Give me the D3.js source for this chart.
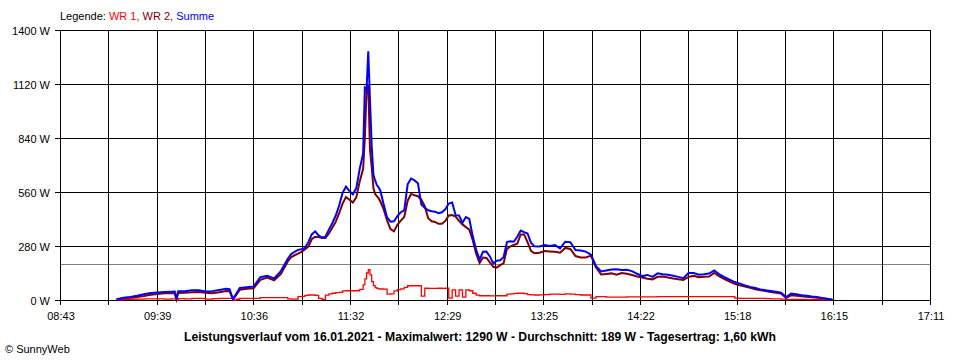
<!DOCTYPE html>
<html><head><meta charset="utf-8">
<script src="https://cdn.jsdelivr.net/npm/d3@7"></script>
<style>
body{margin:0;background:#fff}
svg{display:block}
text{font-family:"Liberation Sans",Arial,sans-serif}
</style>
</head><body>
<svg id="chart" width="960" height="360"></svg>
<script>
// ---- data ----
const times = [
 "09:16","09:20","09:24","09:28","09:32","09:36","09:40","09:44","09:48","09:50",
 "09:51","09:52","09:56","10:00","10:04","10:08","10:12","10:16","10:20","10:22",
 "10:24","10:26","10:28","10:32","10:36","10:40","10:44","10:48","10:52",
 "10:56","10:58","11:00","11:02","11:04","11:06","11:08","11:10","11:12","11:14",
 "11:16","11:18","11:20","11:22","11:24","11:26","11:28","11:30","11:32","11:34",
 "11:36","11:38","11:40",
 "11:41","11:42","11:43","11:44","11:45","11:46","11:47","11:48","11:49","11:50",
 "11:52","11:54","11:56","11:58","12:00","12:02","12:04","12:06","12:08","12:10",
 "12:12","12:14","12:16","12:18","12:20","12:22","12:24","12:26","12:28","12:30",
 "12:32","12:34","12:36","12:38","12:40","12:42","12:44","12:46","12:48","12:50",
 "12:52","12:54","12:56","12:58","13:00","13:02","13:04","13:06","13:08","13:10",
 "13:12","13:14","13:16","13:18","13:20",
 "13:23","13:26","13:29","13:32","13:35","13:38","13:41","13:44","13:47","13:50",
 "13:53","13:56","13:59","14:02","14:05","14:08","14:11","14:14","14:17","14:20",
 "14:23","14:26","14:29","14:32","14:35","14:38","14:41","14:44","14:47","14:50",
 "14:53","14:56","14:59","15:02","15:05","15:08","15:11","15:14","15:17","15:20",
 "15:23","15:26","15:29","15:32","15:35","15:38","15:41","15:44","15:47","15:50",
 "15:53","15:56","15:59","16:02","16:05","16:08","16:11","16:14"
];
const wr1 = [
 1,3,4,5,6,6,6,5,6,6,
 0,7,6,8,8,5,7,8,8,8,
 0,4,8,8,8,12,12,12,12,
 6,5,5,18,19,24,26,26,24,8,
 3,25,32,35,38,40,47,48,48,48,
 48,55,78,
 110,140,157,130,95,75,64,60,58,57,
 56,30,32,47,54,58,65,74,74,74,
 74,20,61,60,60,60,61,60,61,10,
 52,20,52,15,52,48,35,25,22,22,
 22,21,21,22,22,22,30,32,34,35,
 35,33,28,27,26,
 27,28,30,30,29,32,30,28,26,26,
 10,18,17,15,15,15,15,16,16,16,
 16,16,16,17,17,17,17,17,17,17,
 17,17,17,17,17,17,17,17,10,8,
 8,8,8,8,7,6,6,5,2,3,
 3,3,2,2,2,1,1,0
];
const wr2 = [
 2,8,12,16,21,27,31,35,35,35,
 3,36,38,40,41,38,35,40,47,46,
 3,28,53,58,61,105,116,102,135,
 200,222,232,240,250,262,277,315,328,326,
 322,322,345,375,405,450,500,534,520,505,
 532,615,680,
 840,1080,1120,780,690,580,550,538,528,512,
 470,412,368,356,390,412,430,515,550,543,
 538,520,485,424,408,405,395,395,410,438,
 440,432,410,392,378,365,310,240,192,220,
 218,195,172,168,181,190,265,278,285,292,
 340,340,300,255,242,
 245,254,252,250,245,270,265,228,221,221,
 230,168,132,135,138,131,140,136,130,122,
 117,110,107,120,122,117,112,108,104,120,
 125,118,120,122,140,122,108,95,84,76,
 70,63,56,50,47,42,38,34,10,25,
 22,20,17,14,11,9,5,1
];
const summe = [
 4,12,16,22,30,36,39,41,43,44,
 5,46,46,50,51,44,46,52,58,56,
 5,33,62,66,70,118,126,112,150,
 214,238,250,260,263,270,300,340,356,335,
 324,328,365,398,438,490,555,588,565,548,
 580,680,760,
 1100,1090,1290,1037,800,650,620,596,585,568,
 495,428,406,408,435,455,465,600,630,620,
 605,495,478,465,460,458,450,455,470,500,
 505,440,438,400,430,420,330,260,210,250,
 251,226,190,204,206,222,300,305,302,328,
 360,352,345,297,278,
 277,285,280,285,268,302,300,259,257,251,
 235,175,148,153,158,160,155,157,150,136,
 124,130,120,138,134,131,126,120,113,140,
 140,131,133,137,153,133,118,105,93,85,
 76,68,62,55,51,47,43,38,15,33,
 30,25,22,18,15,10,6,2
];
const seriesNames = ["WR 1", "WR 2", "Summe"];
const yTicks = [0, 280, 560, 840, 1120, 1400];
const xTickLabels = ["08:43","09:39","10:36","11:32","12:29","13:25","14:22","15:18","16:15","17:11"];
const dayStart = "08:43", dayEnd = "17:11";
const average = 189;
const titleText = "Leistungsverlauf vom 16.01.2021 - Maximalwert: 1290 W - Durchschnitt: 189 W - Tagesertrag: 1,60 kWh";
const copyrightText = "\u00A9 SunnyWeb";

// ---- drawing ----
const colors = ["#ff0000", "#800000", "#0000ff"];
const widths = [1.3, 2, 2];
const svg = d3.select("#chart");
const parse = d3.timeParse("%H:%M");
const t0 = parse(dayStart), t1 = parse(dayEnd);
const x = d3.scaleTime().domain([t0, t1]).range([60, 930]);
const y = d3.scaleLinear().domain([0, 1400]).range([300, 30]);
const px = v => Math.round(v) + 0.5;

const nGrid = (xTickLabels.length - 1) * 2;
const gridDates = d3.range(nGrid + 1).map(i => new Date(+t0 + i * (t1 - t0) / nGrid));

const grid = svg.append("g").attr("shape-rendering", "crispEdges");
// average line
grid.append("line")
  .attr("x1", 60).attr("x2", 930)
  .attr("y1", px(y(average))).attr("y2", px(y(average)))
  .attr("stroke", "#808080").attr("stroke-width", 1);
grid.selectAll("line.v").data(gridDates).join("line").attr("class", "v")
  .attr("x1", d => px(x(d))).attr("x2", d => px(x(d)))
  .attr("y1", y(1400)).attr("y2", y(0) + 5)
  .attr("stroke", "#000").attr("stroke-width", 1);
grid.selectAll("line.h").data(yTicks).join("line").attr("class", "h")
  .attr("x1", 55).attr("x2", 931)
  .attr("y1", d => px(y(d))).attr("y2", d => px(y(d)))
  .attr("stroke", "#000").attr("stroke-width", 1);

// y labels
svg.selectAll("text.yl").data(yTicks).join("text").attr("class", "yl")
  .attr("x", 50).attr("y", d => y(d) + 4.5)
  .attr("text-anchor", "end").attr("font-size", 11)
  .text(d => d + " W");

// x labels
svg.selectAll("text.xl").data(xTickLabels).join("text").attr("class", "xl")
  .attr("x", (d, i) => x(gridDates[i * 2]) + 1)
  .attr("y", 320)
  .attr("text-anchor", "middle").attr("font-size", 11)
  .text(d => d);

// series
const dates = times.map(parse);
const seriesData = [wr1, wr2, summe];
const curves = [d3.curveStepAfter, d3.curveLinear, d3.curveLinear];
svg.append("g").selectAll("path").data(seriesData).join("path")
  .attr("d", (d, i) => d3.line().curve(curves[i]).x((v, j) => x(dates[j])).y(v => y(v))(d))
  .attr("fill", "none")
  .attr("stroke", (d, i) => colors[i])
  .attr("stroke-width", (d, i) => widths[i])
  .attr("stroke-linejoin", "miter");

// legend
const leg = svg.append("text").attr("x", 60).attr("y", 20).attr("font-size", 11);
leg.append("tspan").attr("fill", "#000").text("Legende: ");
seriesNames.forEach((n, i) => {
  leg.append("tspan").attr("fill", colors[i]).text(n + (i < seriesNames.length - 1 ? ", " : ""));
});

// title
svg.append("text")
  .attr("x", 480).attr("y", 341)
  .attr("text-anchor", "middle")
  .attr("font-size", 12).attr("font-weight", "bold")
  .attr("textLength", 592).attr("lengthAdjust", "spacingAndGlyphs")
  .text(titleText);

// copyright
svg.append("text").attr("x", 5).attr("y", 353).attr("font-size", 11).text(copyrightText);
</script>
</body></html>
